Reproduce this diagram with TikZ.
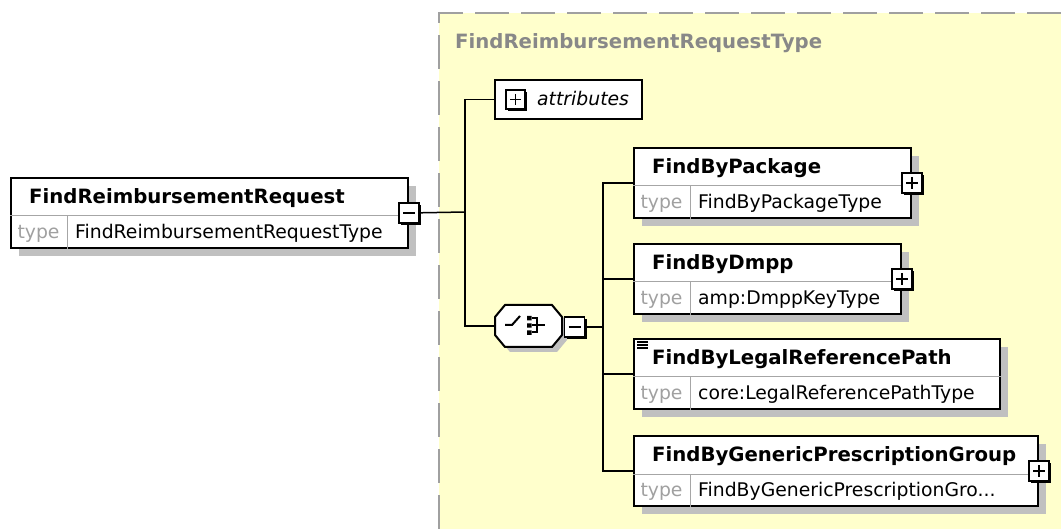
\documentclass[tikz,border=0pt]{standalone}
\usepackage{fontspec}
\setmainfont{DejaVu Sans}
\usepackage{tikz}
\usetikzlibrary{shadows,calc,positioning}
\definecolor{panelyellow}{RGB}{255,255,204}
\definecolor{paneledge}{RGB}{160,160,160}
\definecolor{titlegray}{RGB}{136,136,136}
\definecolor{labelgray}{RGB}{160,160,160}
\definecolor{shadowgray}{RGB}{192,192,192}
\newcommand{\namefont}{\fontsize{19.7}{22}\selectfont\bfseries}
\newcommand{\typefont}{\fontsize{18.8}{22}\selectfont}

% #1 node name, #2 top left corner, #3 width, #4 element, #5 type
\newcommand{\elembox}[5]{%
  \node[elem, minimum width=#3pt, anchor=north west] (#1) at #2 {};
  \draw[divider] ([yshift=-39pt]#1.north west) -- ([yshift=-39pt]#1.north east);
  \draw[divider] ([xshift=57pt,yshift=-39pt]#1.north west) -- ([xshift=57pt]#1.south west);
  \node[elemname] (#1-n) at ([xshift=19pt,yshift=-26.5pt]#1.north west) {#4};
  \node[typelabel] (#1-t) at ([xshift=28.5pt,yshift=-61.5pt]#1.north west) {type};
  \node[elemtype] (#1-v) at ([xshift=65pt,yshift=-61.5pt]#1.north west) {#5};
}

\begin{document}
\begin{tikzpicture}[x=1pt, y=-1pt,
    elem/.style={draw=black, line width=2pt, fill=white, minimum height=70pt, inner sep=0pt,
      drop shadow={shadow xshift=8pt, shadow yshift=-8pt, fill=shadowgray, opacity=1}},
    divider/.style={draw=black!35, line width=1pt},
    elemname/.style={anchor=base west, inner sep=0pt, font=\namefont},
    typelabel/.style={anchor=base, inner sep=0pt, font=\typefont, text=labelgray},
    elemtype/.style={anchor=base west, inner sep=0pt, font=\typefont},
    expander/.style={draw=black, line width=1.6pt, fill=white, minimum size=20pt, inner sep=0pt,
      drop shadow={shadow xshift=2pt, shadow yshift=-2pt, fill=black, opacity=1}},
    minusbox/.style={expander, path picture={
      \draw[line width=1.6pt] ([xshift=4pt]path picture bounding box.west) -- ([xshift=-4pt]path picture bounding box.east);}},
    plusbox/.style={expander, path picture={
      \draw[line width=1.6pt] ([xshift=4pt]path picture bounding box.west) -- ([xshift=-4pt]path picture bounding box.east)
        ([yshift=-4pt]path picture bounding box.north) -- ([yshift=4pt]path picture bounding box.south);}},
    link/.style={draw=black, line width=1.5pt}]
  \useasboundingbox (0,0) rectangle (1061,529);

  \fill[panelyellow] (439,13) rectangle (1061,529);
  \draw[paneledge, line width=2.5pt, dash pattern=on 34pt off 12pt] (439,529) -- (439,13) -- (1061,13);
  \node[anchor=base west, inner sep=0pt, font=\namefont, text=titlegray] (panel-t) at (455,49) {FindReimbursementRequestType};

  \elembox{root}{(10,177)}{397}{FindReimbursementRequest}{FindReimbursementRequestType}
  \node[minusbox] (root-x) at (root.east) {};

  \node[draw=black, line width=2pt, fill=white, minimum width=147pt, minimum height=39pt] (attr) at (568.5,99.5) {};
  \node[plusbox, minimum size=19pt] (attr-x) at (515.5,99.5) {};
  \node[anchor=base west, inner sep=0pt, font=\typefont\itshape] (attr-n) at (537,106) {attributes};

  \node[minimum width=67pt, minimum height=42pt, inner sep=0pt] (seq) at (528.5,326) {};
  \begin{scope}[shift={(seq.center)}]
    \fill[shadowgray] (-18.5,-16) -- (28.5,-16) -- (38.5,-4) -- (38.5,14) -- (28.5,26) -- (-18.5,26) -- (-28.5,14) -- (-28.5,-4) -- cycle;
    \draw[line width=2pt, fill=white] (-23.5,-21) -- (23.5,-21) -- (33.5,-9) -- (33.5,9) -- (23.5,21) -- (-23.5,21) -- (-33.5,9) -- (-33.5,-9) -- cycle;
    \draw[line width=2pt] (-23.5,-1) -- (-16.5,-1) -- (-8.5,-10);
    \fill (-1.5,-10) rectangle (3,-5.5) (-1.5,-2.7) rectangle (3,1.7) (-1.5,4.5) rectangle (3,9);
    \draw[line width=2pt] (3.5,-7.5) -- (8.5,-7.5) -- (8.5,6.5) -- (3.5,6.5) (3.5,-0.5) -- (16.5,-0.5);
  \end{scope}
  \node[minusbox] (seq-x) at (574.5,327) {};

  \elembox{pkg}{(633,147)}{277}{FindByPackage}{FindByPackageType}
  \node[plusbox] (pkg-x) at (pkg.east) {};
  \elembox{dmpp}{(633,243)}{267}{FindByDmpp}{amp:DmppKeyType}
  \node[plusbox] (dmpp-x) at (dmpp.east) {};
  \elembox{legal}{(633,338)}{366}{FindByLegalReferencePath}{core:LegalReferencePathType}
  \draw[line width=1.2pt] ([xshift=4pt,yshift=-4pt]legal.north west) -- ++(11,0)
    ([xshift=4pt,yshift=-7pt]legal.north west) -- ++(11,0)
    ([xshift=4pt,yshift=-10pt]legal.north west) -- ++(11,0);
  \elembox{gen}{(633,435)}{404}{FindByGenericPrescriptionGroup}{FindByGenericPrescriptionGro...}
  \node[plusbox] (gen-x) at (gen.east) {};

  \coordinate (j1) at (465,212);
  \draw[link] (root-x) -- (j1);
  \draw[link] (j1) |- (attr.west);
  \draw[link] (j1) |- (seq.west);

  \coordinate (j2) at (603,327);
  \draw[link] (seq-x) -- (j2);
  \foreach \c in {pkg,dmpp,legal,gen}
    \draw[link] (j2) |- (\c.west);
\end{tikzpicture}
\end{document}
